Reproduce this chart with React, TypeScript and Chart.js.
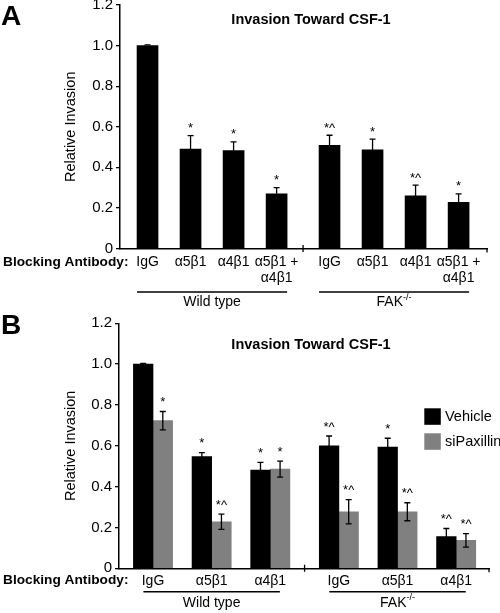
import React, { useEffect, useRef } from "react";
import { Chart, registerables } from "chart.js";
Chart.register(...registerables);

const FONT = "'Liberation Sans', Arial, Helvetica, sans-serif";

// ---------- shared text ----------
const chartTitle = "Invasion Toward CSF-1";
const yAxisTitle = "Relative Invasion";
const rowLabel = "Blocking Antibody:";
const yTickLabels = ["0", "0.2", "0.4", "0.6", "0.8", "1.0", "1.2"];
const groupNames = ["Wild type", "FAK"];
const groupSups = ["", "-/-"];

// ---------- panel A data ----------
const aCategories = [["IgG"], ["α5β1"], ["α4β1"], ["α5β1 +", "α4β1"], ["IgG"], ["α5β1"], ["α4β1"], ["α5β1 +", "α4β1"]];
const aValues = [1.0, 0.49, 0.483, 0.27, 0.508, 0.486, 0.259, 0.228];
const aErrors = [0.003, 0.066, 0.042, 0.03, 0.05, 0.053, 0.053, 0.041];
const aMarks = ["", "*", "*", "*", "*^", "*", "*^", "*"];

// ---------- panel B data ----------
const bCategories = ["IgG", "α5β1", "α4β1", "IgG", "α5β1", "α4β1"];
const seriesNames = ["Vehicle", "siPaxillin"];
const bVehicle = [1.0, 0.547, 0.481, 0.6, 0.594, 0.155];
const bVehicleErr = [0.003, 0.02, 0.038, 0.048, 0.043, 0.04];
const bVehicleMarks = ["", "*", "*", "*^", "*", "*^"];
const bSiPax = [0.723, 0.228, 0.486, 0.277, 0.277, 0.137];
const bSiPaxErr = [0.045, 0.037, 0.039, 0.059, 0.044, 0.033];
const bSiPaxMarks = ["*", "*^", "*", "*^", "*^", "*^"];

const panelA = {
  letter: "A",
  top: 0,
  canvasHeight: 320,
  pad: { left: 58, right: 13, top: 5, bottom: 0 },
  yWidth: 62,
  xHeight: 71.5,
  xMin: -0.64,
  xMax: 7.89,
  gap: 0.23,
  groupSize: 4,
  barThickness: 21,
  tickPad: 5.5,
  titleX: 311,
  titleY: 23.5,
  letterY: 25,
  rowLabelDy: 13.5,
  groupLineDy: 43.5,
  groupTextDy: 54,
  groupInset: 0,
  markLift: 3.5,
  errBoth: false,
  legend: null as any,
  categories: aCategories as any[],
  series: [{ label: seriesNames[0], values: aValues, errors: aErrors, marks: aMarks, color: "#000000" }],
};

const panelB = {
  letter: "B",
  top: 300,
  canvasHeight: 313,
  pad: { left: 58, right: 11, top: 23.3, bottom: 0 },
  yWidth: 61,
  xHeight: 44.7,
  xMin: -0.58,
  xMax: 5.73,
  gap: 0.17,
  groupSize: 3,
  barThickness: 19.6,
  tickPad: 4.4,
  titleX: 311,
  titleY: 49.3,
  letterY: 34,
  rowLabelDy: 12.4,
  groupLineDy: 23.4,
  groupTextDy: 34.7,
  groupInset: 10,
  markLift: 5.5,
  errBoth: true,
  legend: { x: 424.3, y: 108.3, box: 16.5, step: 25, textX: 445 },
  categories: bCategories as any[],
  series: [
    { label: seriesNames[0], values: bVehicle, errors: bVehicleErr, marks: bVehicleMarks, color: "#000000" },
    { label: seriesNames[1], values: bSiPax, errors: bSiPaxErr, marks: bSiPaxMarks, color: "#808080" },
  ],
};

function buildConfig(p: any): any {
  const pos = (i: number) => i + (i >= p.groupSize ? p.gap : 0);
  const positions = p.categories.map((_: any, i: number) => pos(i));

  const overlay = {
    id: "overlay" + p.letter,
    afterDatasetsDraw(chart: any) {
      const ctx = chart.ctx;
      const y = chart.scales.y;
      ctx.save();
      chart.data.datasets.forEach((ds: any, di: number) => {
        const meta = chart.getDatasetMeta(di);
        const s = p.series[di];
        meta.data.forEach((el: any, i: number) => {
          const v = s.values[i];
          const e = s.errors[i];
          const cx = el.x;
          const yTop = y.getPixelForValue(v + e);
          const yBot = y.getPixelForValue(p.errBoth ? v - e : v);
          const cap = 3;
          ctx.strokeStyle = "#000";
          ctx.lineWidth = 1.3;
          ctx.beginPath();
          ctx.moveTo(cx, yTop);
          ctx.lineTo(cx, yBot);
          ctx.moveTo(cx - cap, yTop);
          ctx.lineTo(cx + cap, yTop);
          if (p.errBoth) {
            ctx.moveTo(cx - cap, yBot);
            ctx.lineTo(cx + cap, yBot);
          }
          ctx.stroke();
          const m = s.marks[i];
          if (m) {
            ctx.font = `13px ${FONT}`;
            ctx.fillStyle = "#000";
            ctx.textAlign = "center";
            ctx.textBaseline = "alphabetic";
            ctx.fillText(m, cx, yTop - p.markLift);
          }
        });
      });
      ctx.restore();
    },
    afterDraw(chart: any) {
      const ctx = chart.ctx;
      const area = chart.chartArea;
      ctx.save();
      ctx.fillStyle = "#000";
      ctx.strokeStyle = "#000";
      // panel letter
      ctx.font = `bold 28px ${FONT}`;
      ctx.textAlign = "left";
      ctx.textBaseline = "alphabetic";
      ctx.fillText(p.letter, 1, p.letterY);
      // title
      ctx.font = `bold 14.5px ${FONT}`;
      ctx.textAlign = "center";
      ctx.fillText(chartTitle, p.titleX, p.titleY);
      // row label
      ctx.font = `bold 13.7px ${FONT}`;
      ctx.textAlign = "left";
      ctx.textBaseline = "middle";
      ctx.fillText(rowLabel, 3, area.bottom + p.rowLabelDy);

      // bar extents per index
      const n = p.categories.length;
      const lefts: number[] = [];
      const rights: number[] = [];
      for (let i = 0; i < n; i++) {
        let l = Infinity, r = -Infinity;
        chart.data.datasets.forEach((_: any, di: number) => {
          const el: any = chart.getDatasetMeta(di).data[i];
          l = Math.min(l, el.x - el.width / 2);
          r = Math.max(r, el.x + el.width / 2);
        });
        lefts.push(l);
        rights.push(r);
      }
      // group lines & names
      const groups = [[0, p.groupSize - 1], [p.groupSize, n - 1]];
      groups.forEach(([a, b], gi) => {
        const x0 = lefts[a] + p.groupInset;
        const x1 = rights[b] - p.groupInset;
        const ly = area.bottom + p.groupLineDy;
        ctx.lineWidth = 1.5;
        ctx.beginPath();
        ctx.moveTo(x0, ly);
        ctx.lineTo(x1, ly);
        ctx.stroke();
        const cxm = (x0 + x1) / 2;
        const ty = area.bottom + p.groupTextDy;
        ctx.font = `14px ${FONT}`;
        const w1 = ctx.measureText(groupNames[gi]).width;
        let w2 = 0;
        if (groupSups[gi]) {
          ctx.font = `9px ${FONT}`;
          w2 = ctx.measureText(groupSups[gi]).width;
        }
        const sx = cxm - (w1 + w2) / 2;
        ctx.font = `14px ${FONT}`;
        ctx.textAlign = "left";
        ctx.textBaseline = "middle";
        ctx.fillText(groupNames[gi], sx, ty);
        if (groupSups[gi]) {
          ctx.font = `9px ${FONT}`;
          ctx.fillText(groupSups[gi], sx + w1, ty - 5);
        }
      });
      // separator tick and end tick on x axis
      const sepX = (rights[p.groupSize - 1] + lefts[p.groupSize]) / 2;
      ctx.lineWidth = 1.3;
      ctx.beginPath();
      ctx.moveTo(sepX, area.bottom - 3.5);
      ctx.lineTo(sepX, area.bottom + 3.5);
      ctx.moveTo(area.right, area.bottom);
      ctx.lineTo(area.right, area.bottom + 4);
      ctx.stroke();

      // legend
      if (p.legend) {
        const L = p.legend;
        chart.data.datasets.forEach((ds: any, di: number) => {
          const by = L.y + di * L.step;
          ctx.fillStyle = ds.backgroundColor;
          ctx.fillRect(L.x, by, L.box, L.box);
          ctx.fillStyle = "#000";
          ctx.font = `14.5px ${FONT}`;
          ctx.textAlign = "left";
          ctx.textBaseline = "middle";
          ctx.fillText(ds.label, L.textX, by + L.box / 2);
        });
      }
      ctx.restore();
    },
  };

  return {
    type: "bar",
    data: {
      datasets: p.series.map((s: any) => ({
        label: s.label,
        data: s.values.map((v: number, i: number) => ({ x: positions[i], y: v })),
        backgroundColor: s.color,
        borderWidth: 0,
        barThickness: p.barThickness,
      })),
    },
    options: {
      animation: false,
      responsive: false,
      maintainAspectRatio: false,
      layout: { padding: p.pad },
      plugins: { legend: { display: false }, tooltip: { enabled: false }, title: { display: false } },
      scales: {
        x: {
          type: "linear",
          min: p.xMin,
          max: p.xMax,
          offset: false,
          grid: { display: false, drawTicks: false, offset: false },
          border: { display: true, color: "#000", width: 1.5 },
          afterBuildTicks(scale: any) {
            scale.ticks = positions.map((v: number) => ({ value: v }));
          },
          afterFit(scale: any) {
            scale.height = p.xHeight;
            scale.paddingLeft = 0;
            scale.paddingRight = 0;
          },
          ticks: {
            autoSkip: false,
            maxRotation: 0,
            minRotation: 0,
            padding: p.tickPad,
            color: "#000",
            font: { family: FONT, size: 14, lineHeight: 16 / 14 },
            callback: (_v: any, i: number) => p.categories[i],
          },
        },
        y: {
          min: 0,
          max: 1.2,
          grid: { drawOnChartArea: false, drawTicks: true, tickLength: 4, color: "#000", lineWidth: 1.3 },
          border: { display: true, color: "#000", width: 1.5 },
          afterFit(scale: any) {
            scale.width = p.yWidth;
            scale.paddingTop = 0;
            scale.paddingBottom = 0;
          },
          ticks: {
            stepSize: 0.2,
            padding: 3,
            color: "#000",
            font: { family: FONT, size: 15 },
            callback: (_v: any, i: number) => yTickLabels[i],
          },
          title: {
            display: true,
            text: yAxisTitle,
            color: "#000",
            padding: { top: 4, bottom: 4 },
            font: { family: FONT, size: 14.5 },
          },
        },
      },
    },
    plugins: [overlay],
  };
}

function Panel({ p }: { p: any }) {
  const ref = useRef<HTMLCanvasElement>(null);
  useEffect(() => {
    const chart = new Chart(ref.current as HTMLCanvasElement, buildConfig(p));
    return () => chart.destroy();
  }, []);
  return (
    <canvas
      ref={ref}
      width={500}
      height={p.canvasHeight}
      style={{ position: "absolute", left: 0, top: p.top, width: 500, height: p.canvasHeight }}
    />
  );
}

export default function App() {
  return (
    <div style={{ position: "absolute", left: 0, top: 0, width: 500, height: 613, background: "#fff", overflow: "hidden" }}>
      <Panel p={panelA} />
      <Panel p={panelB} />
    </div>
  );
}
